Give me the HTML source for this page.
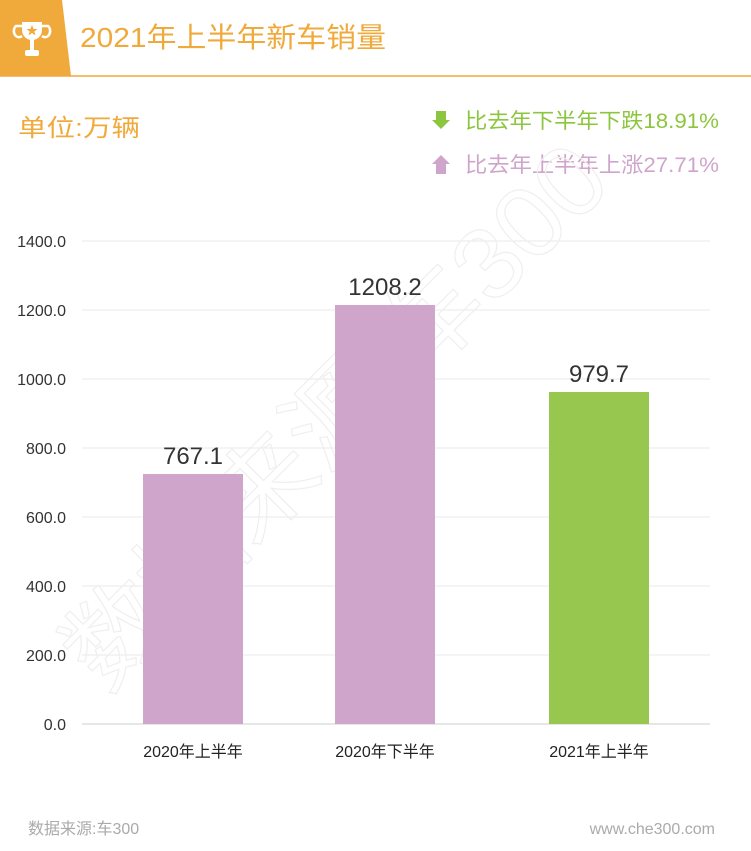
<!DOCTYPE html>
<html><head><meta charset="utf-8"><style>
html,body{margin:0;padding:0;background:#fff;}
svg{display:block;font-family:"Liberation Sans","Noto Sans CJK SC",sans-serif;}
</style></head><body>
<svg width="751" height="851" viewBox="0 0 751 851">
<polygon points="0,0 62,0 71,76 0,76" fill="#f0aa3c"/>
<line x1="0" y1="76" x2="751" y2="76" stroke="#f0aa3c" stroke-width="1.5"/>
<g fill="#fff">
<path d="M22,22 h20 v8 a10,10 0 0 1 -20,0 z"/>
<path d="M22,26 h-6 a5,6 0 0 0 6,10" fill="none" stroke="#fff" stroke-width="2.5"/>
<path d="M42,26 h6 a5,6 0 0 1 -6,10" fill="none" stroke="#fff" stroke-width="2.5"/>
<rect x="30" y="39" width="4" height="11"/>
<rect x="25" y="50" width="14" height="6" rx="2"/>
</g>
<polygon points="32,25 33.5,29 37.5,29 34.3,31.5 35.5,35.5 32,33 28.5,35.5 29.7,31.5 26.5,29 30.5,29" fill="#f0aa3c"/>
<text x="80" y="47" font-size="28" fill="#f0aa3c" textLength="306" lengthAdjust="spacingAndGlyphs">2021年上半年新车销量</text>
<text x="18" y="136" font-size="24" fill="#f0aa3c" textLength="122" lengthAdjust="spacingAndGlyphs">单位:万辆</text>
<polygon points="436,111 446,111 446,120 450,120 441,129 432,120 436,120" fill="#8cc63f"/>
<text x="465" y="128" font-size="21" fill="#8cc63f" textLength="254" lengthAdjust="spacingAndGlyphs">比去年下半年下跌18.91%</text>
<polygon points="441,155 450,164 446,164 446,174 436,174 436,164 432,164" fill="#cfa5cb"/>
<text x="465" y="172" font-size="21" fill="#cfa5cb" textLength="254" lengthAdjust="spacingAndGlyphs">比去年上半年上涨27.71%</text>
<g stroke="#e8e8e8" stroke-width="1">
<line x1="82" y1="241" x2="710" y2="241"/>
<line x1="82" y1="310" x2="710" y2="310"/>
<line x1="82" y1="379" x2="710" y2="379"/>
<line x1="82" y1="448" x2="710" y2="448"/>
<line x1="82" y1="517" x2="710" y2="517"/>
<line x1="82" y1="586" x2="710" y2="586"/>
<line x1="82" y1="655" x2="710" y2="655"/>
</g>
<line x1="82" y1="724" x2="710" y2="724" stroke="#ccc"/>
<g font-size="16" fill="#333" text-anchor="end">
<text x="66" y="247">1400.0</text>
<text x="66" y="316">1200.0</text>
<text x="66" y="385">1000.0</text>
<text x="66" y="454">800.0</text>
<text x="66" y="523">600.0</text>
<text x="66" y="592">400.0</text>
<text x="66" y="661">200.0</text>
<text x="66" y="730">0.0</text>
</g>
<text transform="translate(360,440) rotate(-45)" font-size="100" fill="none" stroke="#efefef" stroke-width="1.2" text-anchor="middle" textLength="720" lengthAdjust="spacingAndGlyphs">数据来源:车300</text>
<rect x="143" y="474" width="100" height="250" fill="#cfa5cb"/>
<rect x="335" y="305" width="100" height="419" fill="#cfa5cb"/>
<rect x="549" y="392" width="100" height="332" fill="#97c74e"/>
<g font-size="24" fill="#333" text-anchor="middle">
<text x="193" y="464">767.1</text>
<text x="385" y="295">1208.2</text>
<text x="599" y="382">979.7</text>
</g>
<g font-size="16" fill="#222" text-anchor="middle">
<text x="193" y="757">2020年上半年</text>
<text x="385" y="757">2020年下半年</text>
<text x="599" y="757">2021年上半年</text>
</g>
<text x="28" y="834" font-size="16" fill="#aaa">数据来源:车300</text>
<text x="715" y="834" font-size="16" fill="#aaa" text-anchor="end">www.che300.com</text>
</svg>
</body></html>
